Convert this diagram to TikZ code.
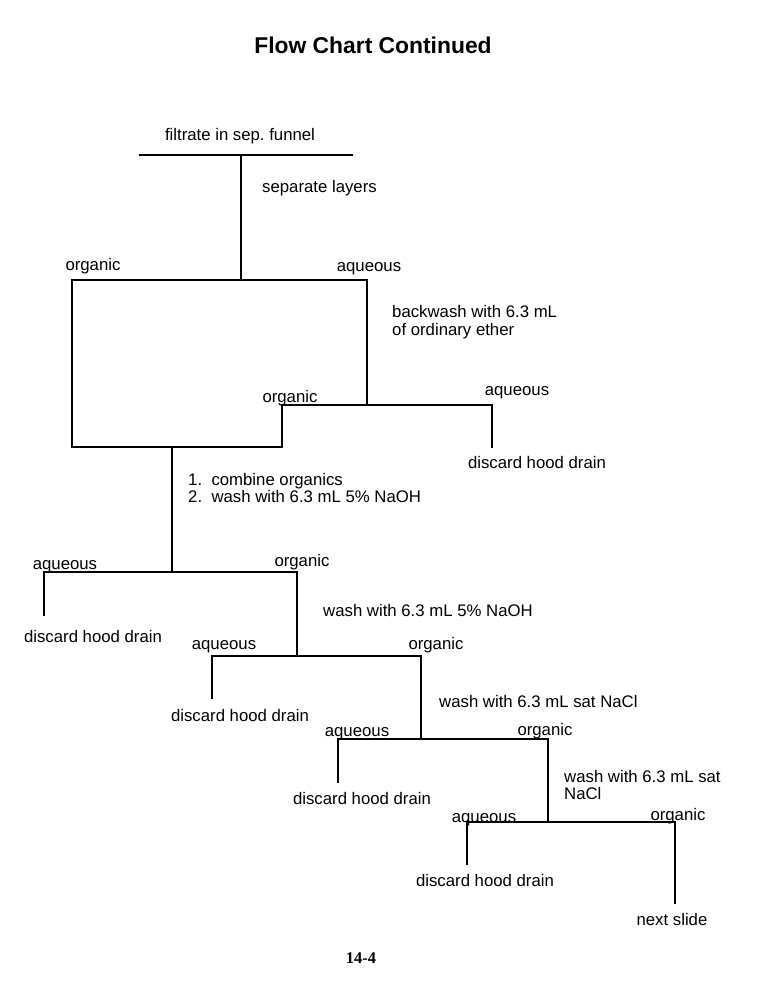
\documentclass[tikz,border=0pt]{standalone}
\usepackage{fontspec}
\setmainfont{Liberation Sans}
\newfontfamily\pagefont{Liberation Serif}
\usetikzlibrary{positioning}
\tikzset{
	flow/.style = {line width=1.4pt, line cap=rect},
	lbl/.style = {inner sep=0pt, font=\fontsize{14.3}{14.8}\selectfont,
	 text height=1.5ex, text depth=.25ex, yshift=-2.5pt},
	note/.style = {lbl, anchor=west},
	notes/.style = {inner sep=0pt, font=\fontsize{14.3}{14.8}\selectfont,
	 anchor=west, align=left},
}

\begin{document}
\begin{tikzpicture}[x=0.03cm, y=-0.03cm]
	\useasboundingbox (0,0) rectangle (768,1007);
	\node (Title) at (373,45) [font=\fontsize{19.5}{23}\selectfont\bfseries] {Flow Chart Continued};
	% separation of the filtrate
	\node (Filtrate) at (240,134) [lbl] {filtrate in sep.\ funnel};
	\coordinate (FunL) at (140,155);
	\coordinate (FunR) at (352,155);
	\coordinate (FunS) at (241,155);
	\coordinate (Split) at (241,280);
	\node (Separate) at (262,186) [note] {separate layers};
	\draw[flow] (FunL) -- (FunR);
	\draw[flow] (FunS) -- (Split);
	% backwash box
	\coordinate (BoxL) at (72,280);
	\coordinate (BoxR) at (367,280);
	\coordinate (BoxBL) at (72,447);
	\coordinate (BoxBR) at (282,447);
	\coordinate (BackOrg) at (282,405);
	\coordinate (BackMid) at (367,405);
	\coordinate (BackAq) at (492,405);
	\coordinate (BackDrain) at (492,447);
	\node (Org1) at (93,264) [lbl] {organic};
	\node (Aq1) at (369,265) [lbl] {aqueous};
	\node (Backwash) at (392,322) [notes] {backwash with 6.3 mL\\of ordinary ether};
	\node (OrgB) at (290,396) [lbl] {organic};
	\node (AqB) at (517,389) [lbl] {aqueous};
	\node (DiscB) at (537,462) [lbl] {discard hood drain};
	\draw[flow] (BoxBL) -- (BoxL) -- (BoxR) -- (BackMid);
	\draw[flow] (BackOrg) -- (BackAq) -- (BackDrain);
	\draw[flow] (BackOrg) -- (BoxBR) -- (BoxBL);
	% first NaOH wash
	\coordinate (Comb) at (172,447);
	\coordinate (Wash1) at (172,572);
	\node (Combine) at (188,488) [notes] {1.\ \ combine organics\\2.\ \ wash with 6.3 mL 5\% NaOH};
	\draw[flow] (Comb) -- (Wash1);
	\coordinate (Aq2) at (44,572);
	\coordinate (Org2) at (297,572);
	\coordinate (Drain2) at (44,615);
	\coordinate (Wash2) at (297,656);
	\node (AqL2) at (65,563) [lbl] {aqueous};
	\node (OrgL2) at (302,560) [lbl] {organic};
	\node (Disc2) at (93,636) [lbl] {discard hood drain};
	\node (NaOH2) at (323,610) [note] {wash with 6.3 mL 5\% NaOH};
	\draw[flow] (Drain2) -- (Aq2) -- (Org2) -- (Wash2);
	% second NaOH wash
	\coordinate (Aq3) at (212,656);
	\coordinate (Org3) at (421,656);
	\coordinate (Drain3) at (212,698);
	\coordinate (Wash3) at (421,739);
	\node (AqL3) at (224,643) [lbl] {aqueous};
	\node (OrgL3) at (436,643) [lbl] {organic};
	\node (Disc3) at (240,715) [lbl] {discard hood drain};
	\node (NaCl3) at (439,701) [note] {wash with 6.3 mL sat NaCl};
	\draw[flow] (Drain3) -- (Aq3) -- (Org3) -- (Wash3);
	% first NaCl wash
	\coordinate (Aq4) at (338,739);
	\coordinate (Org4) at (548,739);
	\coordinate (Drain4) at (338,782);
	\coordinate (Wash4) at (548,822);
	\node (AqL4) at (357,730) [lbl] {aqueous};
	\node (OrgL4) at (545,729) [lbl] {organic};
	\node (Disc4) at (362,798) [lbl] {discard hood drain};
	\node (NaCl4) at (564,785) [notes] {wash with 6.3 mL sat\\NaCl};
	\draw[flow] (Drain4) -- (Aq4) -- (Org4) -- (Wash4);
	% second NaCl wash
	\coordinate (Aq5) at (467,822);
	\coordinate (Org5) at (675,822);
	\coordinate (Drain5) at (467,864);
	\coordinate (Next) at (675,903);
	\node (AqL5) at (484,816) [lbl] {aqueous};
	\node (OrgL5) at (678,814) [lbl] {organic};
	\node (Disc5) at (485,880) [lbl] {discard hood drain};
	\node (NextSlide) at (672,919) [lbl] {next slide};
	\draw[flow] (Drain5) -- (Aq5) -- (Org5) -- (Next);
	\node (Page) at (361,958) [font=\pagefont\bfseries\fontsize{14}{16}\selectfont] {14-4};
\end{tikzpicture}
\end{document}
